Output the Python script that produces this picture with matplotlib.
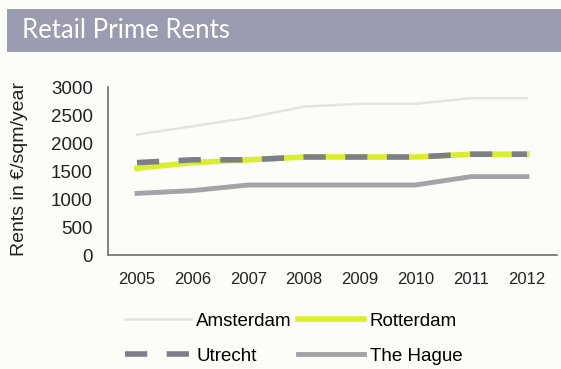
import matplotlib
matplotlib.use("Agg")
import matplotlib.pyplot as plt
from matplotlib.patches import Rectangle
from matplotlib.lines import Line2D

# Prime retail rents, EUR per sqm per year
years = [2005, 2006, 2007, 2008, 2009, 2010, 2011, 2012]
amsterdam = [2150, 2300, 2450, 2650, 2700, 2700, 2800, 2800]
rotterdam = [1550, 1650, 1700, 1750, 1750, 1750, 1800, 1800]
utrecht = [1650, 1700, 1700, 1750, 1750, 1750, 1800, 1800]
the_hague = [1100, 1150, 1250, 1250, 1250, 1250, 1400, 1400]
y_ticks = [0, 500, 1000, 1500, 2000, 2500, 3000]

bg = "#fcfcf8"
font = ["Liberation Sans", "DejaVu Sans"]
narrow = ["Liberation Sans Narrow", "Liberation Sans", "DejaVu Sans"]

fig = plt.figure(figsize=(5.61, 3.69), dpi=100, facecolor=bg)

# title banner
fig.patches.append(Rectangle((7 / 561, 1 - 52 / 369), 1, 43 / 369,
                             transform=fig.transFigure, facecolor="#9c9cb1",
                             edgecolor="none"))
fig.text(22 / 561, 1 - 31 / 369, "Retail Prime Rents", color="white",
         fontsize=18.5, family=["Lato", "DejaVu Sans"], va="center", ha="left")

ax = fig.add_axes([108 / 561, 1 - 255 / 369, 449 / 561, 168 / 369])
ax.set_facecolor(bg)

ax.plot(years, amsterdam, color="#e4e4e4", lw=1.8)
ax.plot(years, rotterdam, color="#d9ef2c", lw=4)
ax.plot(years, utrecht, color="#7e7e86", lw=4, dashes=(4, 3.5))
ax.plot(years, the_hague, color="#a4a4a8", lw=3.5)

ax.set_xlim(2004.48, 2012.54)
ax.set_ylim(0, 3000)
ax.set_xticks(years)
ax.set_yticks(y_ticks)
ax.set_xticklabels([str(y) for y in years], family=narrow, fontsize=12)
ax.set_yticklabels([str(v) for v in y_ticks], family=font, fontsize=13.5)
ax.tick_params(length=0, colors="#222222")
ax.tick_params(axis="y", pad=11)
ax.tick_params(axis="x", pad=12)
for side in ("top", "right"):
    ax.spines[side].set_visible(False)
for side in ("left", "bottom"):
    ax.spines[side].set_color("#6e6e6e")
    ax.spines[side].set_linewidth(1.2)

fig.text(20 / 561, 1 - 169 / 369, "Rents in €/sqm/year", rotation=90,
         fontsize=14, family=font, va="center", ha="center", color="#222222")

# legend filled column-wise, so order gives rows Amsterdam/Rotterdam, Utrecht/The Hague
handles = [
    Line2D([], [], color="#e4e4e4", lw=1.8),
    Line2D([], [], color="#7e7e86", lw=4, dashes=(4, 3.5)),
    Line2D([], [], color="#d9ef2c", lw=4),
    Line2D([], [], color="#a4a4a8", lw=3.5),
]
labels = ["Amsterdam", "Utrecht", "Rotterdam", "The Hague"]
fig.legend(handles, labels, loc="upper left", ncol=2, frameon=False,
           bbox_to_anchor=(108 / 561, 1 - 296 / 369), handlelength=3.5,
           handletextpad=0.3, columnspacing=0.35, labelspacing=0.95,
           prop={"family": font, "size": 13.5})

fig.savefig("out.png", dpi=100, facecolor=bg)
